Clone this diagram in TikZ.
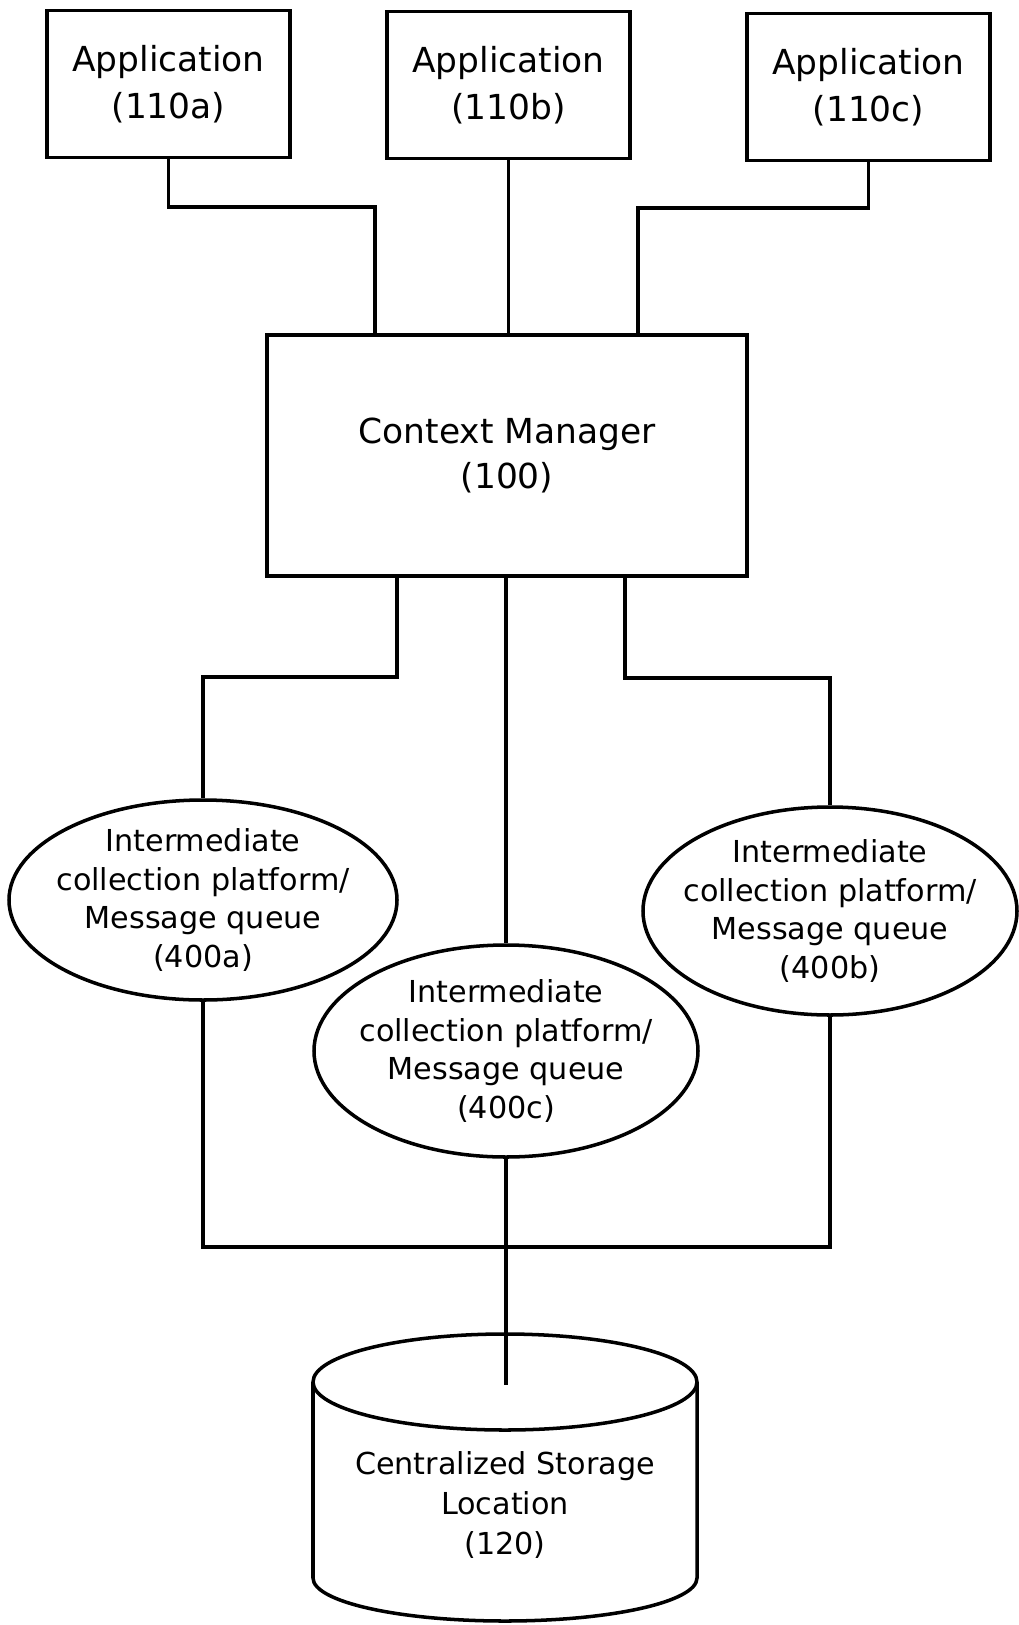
\documentclass[tikz,border=0pt]{standalone}
\usepackage{fontspec}
\setmainfont{DejaVu Sans}
\usetikzlibrary{shapes}

\begin{document}
\begin{tikzpicture}[line width=1pt,
        app/.style={draw,rectangle,align=center,minimum width=2.43cm,minimum height=1.47cm,font=\fontsize{9.8}{13.2}\selectfont},
        queue/.style={draw,ellipse,align=center,inner xsep=-0.15cm,inner ysep=-0.05cm,font=\fontsize{8.6}{11}\selectfont}]
        \useasboundingbox(0,0)rectangle(10.19,-16.25);
        \node(appa)at(1.685,-0.84)[app]{Application\\(110a)};
        \node(appb)at(5.085,-0.85)[app]{Application\\(110b)};
        \node(appc)at(8.685,-0.87)[app]{Application\\(110c)};
        \node(manager)at(5.07,-4.555)[draw,rectangle,align=center,minimum width=4.8cm,minimum height=2.41cm,font=\fontsize{9.8}{13}\selectfont]{Context Manager\\(100)};
        \node(queuea)at(2.03,-9.0)[queue,minimum width=3.88cm,minimum height=2cm]{Intermediate\\collection platform/\\Message queue\\(400a)};
        \node(queueb)at(8.30,-9.11)[queue,minimum width=3.74cm,minimum height=2.08cm]{Intermediate\\collection platform/\\Message queue\\(400b)};
        \node(queuec)at(5.06,-10.51)[queue,minimum width=3.84cm,minimum height=2.12cm]{Intermediate\\collection platform/\\Message queue\\(400c)};
        % storage drum
        \draw(3.13,-13.82)--(3.13,-15.78)arc[start angle=180,end angle=360,x radius=1.92,y radius=0.43]--(6.97,-13.82);
        \draw(5.05,-13.82)ellipse[x radius=1.92,y radius=0.48];
        \node(storage)at(5.05,-15.05)[align=center,font=\fontsize{8.6}{11.4}\selectfont]{Centralized Storage\\Location\\(120)};
        \coordinate(storagetop)at(5.06,-13.85);
        % bends
        \coordinate(ja)at(3.75,-2.07);
        \coordinate(jc)at(6.38,-2.08);
        \coordinate(ka)at(3.97,-6.77);
        \coordinate(kb)at(6.25,-6.78);
        \coordinate(bus)at(5.06,-12.47);
        \draw(appa.south)|-(ja)--(ja|-manager.north);
        \draw(appb.south)--(appb.south|-manager.north);
        \draw(appc.south)|-(jc)--(jc|-manager.north);
        \draw(ka|-manager.south)--(ka)-|(queuea.north);
        \draw(queuec.north|-manager.south)--(queuec.north);
        \draw(kb|-manager.south)--(kb)-|(queueb.north);
        \draw(queuea.south)|-(bus)-|(queueb.south);
        \draw(queuec.south)--(storagetop);
    \end{tikzpicture}
\end{document}
